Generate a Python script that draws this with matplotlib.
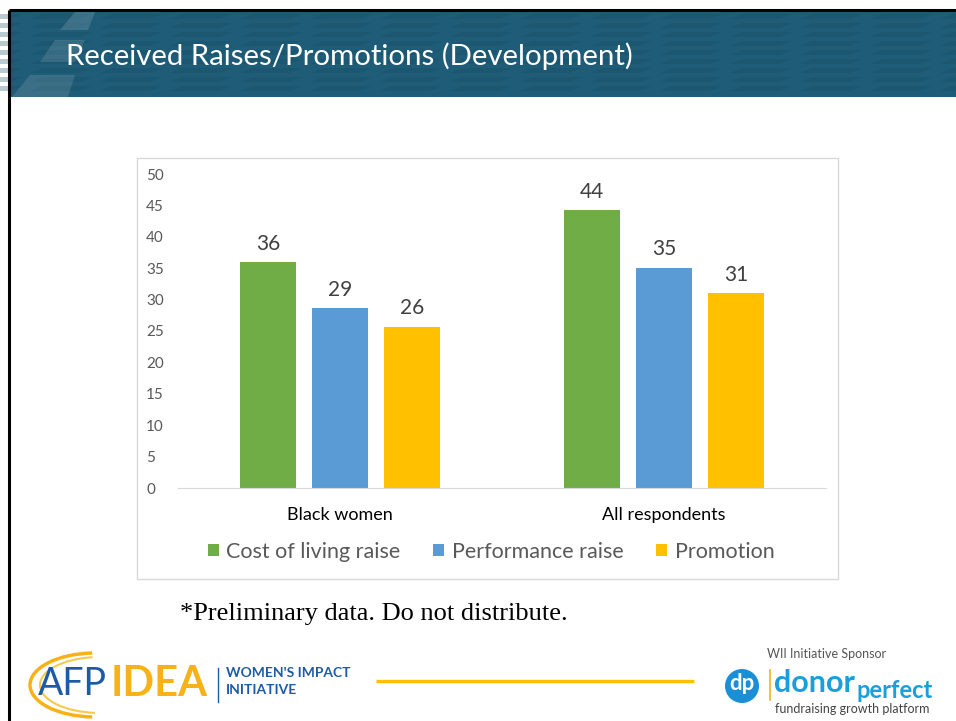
import matplotlib.pyplot as plt
import numpy as np
from matplotlib.patches import Rectangle, Polygon, Circle, Arc

# chart values
groups = ["Black women", "All respondents"]
series = ["Cost of living raise", "Performance raise", "Promotion"]
cost_of_living = [36.0, 44.2]
performance = [28.6, 35.1]
promotion = [25.7, 31.0]
y_ticks = [0, 5, 10, 15, 20, 25, 30, 35, 40, 45, 50]
colors = ["#70ad47", "#5b9bd5", "#ffc000"]

W, H = 956, 721
fig = plt.figure(figsize=(W / 100, H / 100), dpi=100)
fig.patch.set_facecolor("white")

# background layer in pixel coordinates
bg = fig.add_axes([0, 0, 1, 1], zorder=0)
bg.set_xlim(0, W)
bg.set_ylim(H, 0)
bg.axis("off")

# header band
bg.add_patch(Rectangle((10, 11), W - 10, 86, facecolor="#1f5c77", edgecolor="none"))
for y0 in range(14, 92, 9):
    for x0 in range(-40, W, 70):
        bg.add_patch(Polygon([(x0, y0 + 5), (x0 + 50, y0 + 5), (x0 + 62, y0), (x0 + 12, y0)],
                             closed=True, facecolor="#184d64", edgecolor="none", alpha=0.3))
bg.add_patch(Polygon([(75, 12), (95, 12), (88, 30), (60, 30)], facecolor="white", alpha=0.14,
                     edgecolor="none"))
bg.add_patch(Polygon([(55, 40), (85, 40), (75, 62), (40, 62)], facecolor="white", alpha=0.12,
                     edgecolor="none"))
bg.add_patch(Polygon([(30, 75), (75, 75), (68, 97), (12, 97)], facecolor="white", alpha=0.12,
                     edgecolor="none"))
bg.text(66, 56, "Received Raises/Promotions (Development)", color="white", fontsize=21.2,
        family="Lato", va="center", ha="left")

# slide frame
bg.plot([9, W], [10, 10], color="black", lw=2.2, solid_capstyle="butt")
bg.plot([9, 9], [10, H], color="black", lw=2.2, solid_capstyle="butt")

# chart box
bg.add_patch(Rectangle((137, 158), 701, 421, facecolor="white", edgecolor="#d9d9d9", lw=1))

# footnote
bg.text(180, 614, "*Preliminary data. Do not distribute.", family="Liberation Serif",
        fontsize=19, color="black", va="center", ha="left")

# left logo
bg.add_patch(Arc((95, 685), 130, 64, theta1=95, theta2=265, color="#f7b21a", lw=2.5))
bg.add_patch(Arc((100, 685), 120, 56, theta1=100, theta2=255, color="#f9c94f", lw=1.5))
bg.text(38, 684, "AFP", color="#1d5ba6", fontsize=27, family="Lato", va="center", ha="left")
bg.text(111, 684, "IDEA", color="#f7b21a", fontsize=30, family="Lato", weight="bold",
        va="center", ha="left")
bg.plot([218, 218], [668, 702], color="#1d5ba6", lw=1)
bg.text(226, 673, "WOMEN'S IMPACT", color="#1d5ba6", fontsize=10, family="Lato",
        weight="bold", va="center", ha="left")
bg.text(226, 690, "INITIATIVE", color="#1d5ba6", fontsize=10, family="Lato",
        weight="bold", va="center", ha="left")

# yellow rule
bg.plot([376, 694], [681, 681], color="#ffc000", lw=2.4, solid_capstyle="butt")

# right logo
bg.text(827, 654, "WII Initiative Sponsor", color="#555555", fontsize=9, family="Lato",
        va="center", ha="center")
bg.add_patch(Circle((742, 686), 17, facecolor="#1b8fd6", edgecolor="none"))
bg.text(742, 684, "dp", color="white", fontsize=16, weight="bold", family="Lato",
        va="center", ha="center")
bg.plot([770, 770], [670, 700], color="#f7b21a", lw=1.2)
bg.text(774, 683, "donor", color="#1a9fdb", fontsize=22, weight="bold", family="Lato",
        va="center", ha="left")
bg.text(857, 690, "perfect", color="#1a9fdb", fontsize=17, weight="bold", family="Lato",
        va="center", ha="left")
bg.text(775, 709, "fundraising growth platform", color="#444444", fontsize=9,
        family="Lato", va="center", ha="left")

# bar chart
ax = fig.add_axes([178 / W, (H - 488) / H, 648 / W, 314 / H], zorder=2)
ax.patch.set_alpha(0)
x = np.arange(len(groups))
width = 0.173
step = 0.222
values = [cost_of_living, performance, promotion]
handles = []
for i, (name, vals, c) in enumerate(zip(series, values, colors)):
    bars = ax.bar(x + (i - 1) * step, vals, width, color=c, label=name)
    ax.bar_label(bars, fmt="%.0f", padding=6, fontsize=15, color="#404040", family="Lato")
    handles.append(bars)

ax.set_xlim(-0.5, 1.5)
ax.set_ylim(0, 50)
ax.set_yticks(y_ticks)
ax.set_yticklabels([str(t) for t in y_ticks], color="#595959", fontsize=11, family="Lato",
                   ha="left")
ax.tick_params(axis="y", length=0, pad=23)
ax.set_xticks(x)
ax.set_xticklabels(groups, fontsize=13, family="Lato", color="black")
ax.tick_params(axis="x", length=0, pad=13.5)
for side in ["top", "right", "left"]:
    ax.spines[side].set_visible(False)
ax.spines["bottom"].set_color("#d9d9d9")

leg = ax.legend(handles=handles, loc="center", bbox_to_anchor=(491 / W, 1 - 552 / H),
                bbox_transform=fig.transFigure, ncol=3, frameon=False,
                handlelength=0.5, handleheight=0.5, handletextpad=0.37, columnspacing=1.5,
                labelcolor="#595959", prop={"family": "Lato", "size": 15.5})

fig.savefig("out.png", dpi=100)
